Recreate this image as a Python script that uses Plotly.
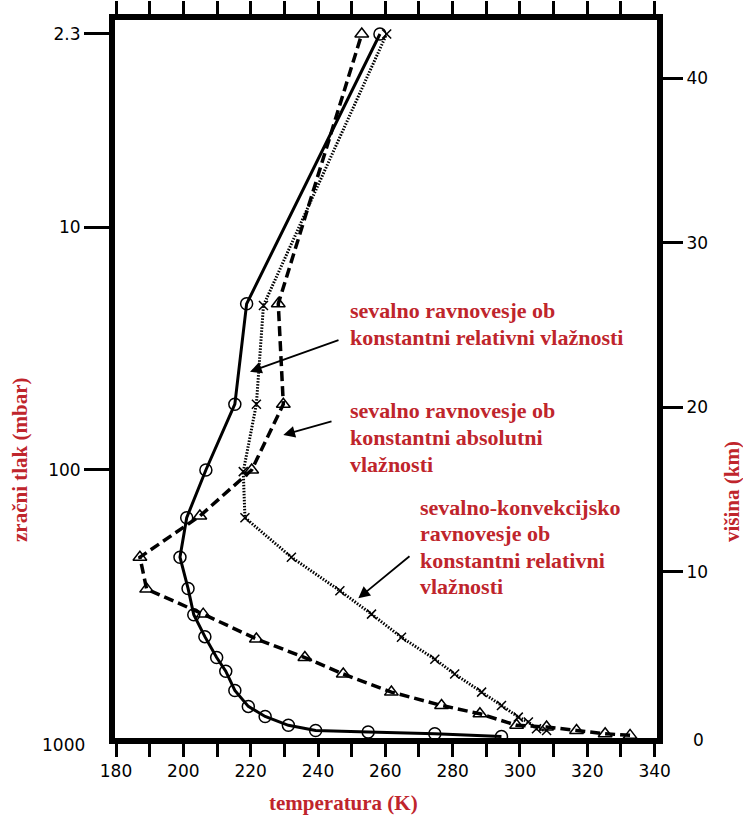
import plotly.graph_objects as go

# ---------------- data ----------------
# Radiative equilibrium, fixed relative humidity (solid, circles)
T_rel = [294.5, 274.7, 254.9, 239.3, 231.2, 224.3, 219.3, 215.3, 212.6, 209.9,
         206.4, 203.1, 201.4, 199.0, 201.0, 206.7, 215.3, 218.8, 258.4]
h_rel = [0.0, 0.17, 0.27, 0.37, 0.68, 1.22, 1.83, 2.8, 3.97, 4.8,
         6.07, 7.4, 9.0, 10.9, 13.3, 16.2, 20.2, 26.3, 42.7]

# Radiative equilibrium, fixed absolute humidity (dashed, triangles)
T_abs = [332.7, 325.3, 316.8, 307.9, 299.0, 288.1, 276.7, 261.8, 247.5, 236.1,
         221.7, 205.9, 189.1, 187.1, 204.9, 220.3, 229.7, 228.2, 253.0]
h_abs = [0.07, 0.17, 0.37, 0.58, 0.68, 1.38, 1.89, 2.7, 3.8, 4.8,
         5.93, 7.44, 8.96, 10.9, 13.4, 16.2, 20.2, 26.3, 42.7]

# Radiative-convective equilibrium, fixed relative humidity (dotted, crosses)
T_rc = [307.9, 304.9, 302.5, 299.5, 294.5, 288.6, 280.6, 274.7, 264.8, 255.9,
        246.5, 232.1, 218.3, 217.8, 221.7, 223.8, 260.4]
h_rc = [0.37, 0.47, 0.88, 1.18, 1.89, 2.7, 3.8, 4.7, 6.03, 7.44,
        8.86, 10.9, 13.3, 16.1, 20.2, 26.2, 42.7]

# axes
x_ticks = list(range(180, 341, 10))
x_labels = [str(v) if v % 20 == 0 else "" for v in x_ticks]
p_labels = ["2.3", "10", "100"]          # pressure (mbar)
p_heights = [42.7, 30.94, 16.2]           # equivalent height (km)
km_ticks = [10, 20, 30, 40]

RED = "#bf252c"
BLACK = "#000000"

# ---------------- layout geometry ----------------
W, H = 743, 818
L, R, T, B = 115, 86, 20, 80
PW, PH = W - L - R, H - T - B
XR = [179.7, 340.7]
YR = [-0.09, 43.55]


def xp(px):
    return (px - L) / PW


def yp(py):
    return (H - B - py) / PH


def dx(px):
    return XR[0] + (px - L) / PW * (XR[1] - XR[0])


def dy(py):
    return YR[0] + (H - B - py) / PH * (YR[1] - YR[0])


fig = go.Figure()

fig.add_trace(go.Scatter(
    x=T_rel, y=h_rel, mode="lines+markers",
    line=dict(color=BLACK, width=3),
    marker=dict(symbol="circle-open", size=12, color=BLACK, line=dict(width=1.5)),
    showlegend=False))

fig.add_trace(go.Scatter(
    x=T_abs, y=h_abs, mode="lines+markers",
    line=dict(color=BLACK, width=3.5, dash="10px,5px"),
    marker=dict(symbol="triangle-up-open", size=12, color=BLACK, line=dict(width=1.5)),
    showlegend=False))

fig.add_trace(go.Scatter(
    x=T_rc, y=h_rc, mode="lines+markers",
    line=dict(color=BLACK, width=3, dash="1.5px,1.5px"),
    marker=dict(symbol="x-thin", size=9, color=BLACK, line=dict(width=1.5, color=BLACK)),
    showlegend=False))

# invisible trace to activate right axis
fig.add_trace(go.Scatter(x=[XR[0]], y=[YR[0]], yaxis="y2", mode="markers",
                         marker=dict(opacity=0), showlegend=False, hoverinfo="skip"))

tickfont = dict(family="DejaVu Sans", size=17, color=BLACK)

fig.update_layout(
    width=W, height=H,
    margin=dict(l=L, r=R, t=T, b=B, autoexpand=False),
    paper_bgcolor="white", plot_bgcolor="white",
    xaxis=dict(range=XR, tickvals=x_ticks, ticktext=x_labels, ticks="outside",
               ticklen=13, tickwidth=3, tickcolor=BLACK, showline=True,
               linewidth=6, linecolor=BLACK, mirror="ticks", showgrid=False,
               zeroline=False, tickfont=tickfont, automargin=False),
    yaxis=dict(range=YR, tickvals=p_heights, ticktext=p_labels, ticks="outside",
               ticklen=25, tickwidth=3, tickcolor=BLACK, showline=True,
               linewidth=6, linecolor=BLACK, showgrid=False, zeroline=False,
               tickfont=tickfont, automargin=False),
    yaxis2=dict(range=YR, overlaying="y", side="right", tickvals=km_ticks,
                ticks="outside", ticklen=20, tickwidth=3, tickcolor=BLACK,
                showline=True, linewidth=6, linecolor=BLACK, showgrid=False,
                zeroline=False, tickfont=tickfont, automargin=False),
)

ann = []
# extra axis labels without ticks
ann.append(dict(x=xp(87), y=yp(745), xref="paper", yref="paper", text="1000",
                showarrow=False, xanchor="right", yanchor="middle", font=tickfont))
ann.append(dict(x=xp(698), y=yp(740), xref="paper", yref="paper", text="0",
                showarrow=False, xanchor="center", yanchor="middle", font=tickfont))

title_font = dict(family="Liberation Serif", size=21, color=RED, weight="bold")
ann.append(dict(x=xp(343), y=yp(803), xref="paper", yref="paper",
                text="temperatura (K)", showarrow=False, font=title_font,
                xanchor="center", yanchor="middle", borderpad=0))
ann.append(dict(x=xp(20), y=yp(460), xref="paper", yref="paper",
                text="zračni tlak (mbar)", showarrow=False, font=title_font,
                textangle=-90, xanchor="center", yanchor="middle"))
ann.append(dict(x=xp(732), y=yp(492), xref="paper", yref="paper",
                text="višina (km)", showarrow=False, font=title_font,
                textangle=-90, xanchor="center", yanchor="middle"))

call_font = dict(family="Liberation Serif", size=22, color=RED, weight="bold")
callouts = [
    (348, 310, "sevalno ravnovesje ob"),
    (348, 337, "konstantni relativni vlažnosti"),
    (348, 410, "sevalno ravnovesje ob"),
    (348, 437, "konstantni absolutni"),
    (348, 464, "vlažnosti"),
    (418, 507, "sevalno-konvekcijsko"),
    (418, 533, "ravnovesje ob"),
    (418, 560, "konstantni relativni"),
    (418, 586, "vlažnosti"),
]
for px, py, txt in callouts:
    ann.append(dict(x=xp(px), y=yp(py), xref="paper", yref="paper", text=txt,
                    showarrow=False, font=call_font, xanchor="left",
                    yanchor="middle"))

arrows = [((250, 371.7), (340, 339.6)),
          ((283.3, 435), (333, 421)),
          ((358.3, 598.3), (411, 555))]
for (hx, hy), (tx, ty) in arrows:
    ann.append(dict(x=dx(hx), y=dy(hy), ax=dx(tx), ay=dy(ty), xref="x", yref="y",
                    axref="x", ayref="y", text="", showarrow=True, arrowhead=2,
                    arrowsize=1.3, arrowwidth=1.8, arrowcolor=BLACK))

fig.update_layout(annotations=ann)
fig.write_html("out.html")
